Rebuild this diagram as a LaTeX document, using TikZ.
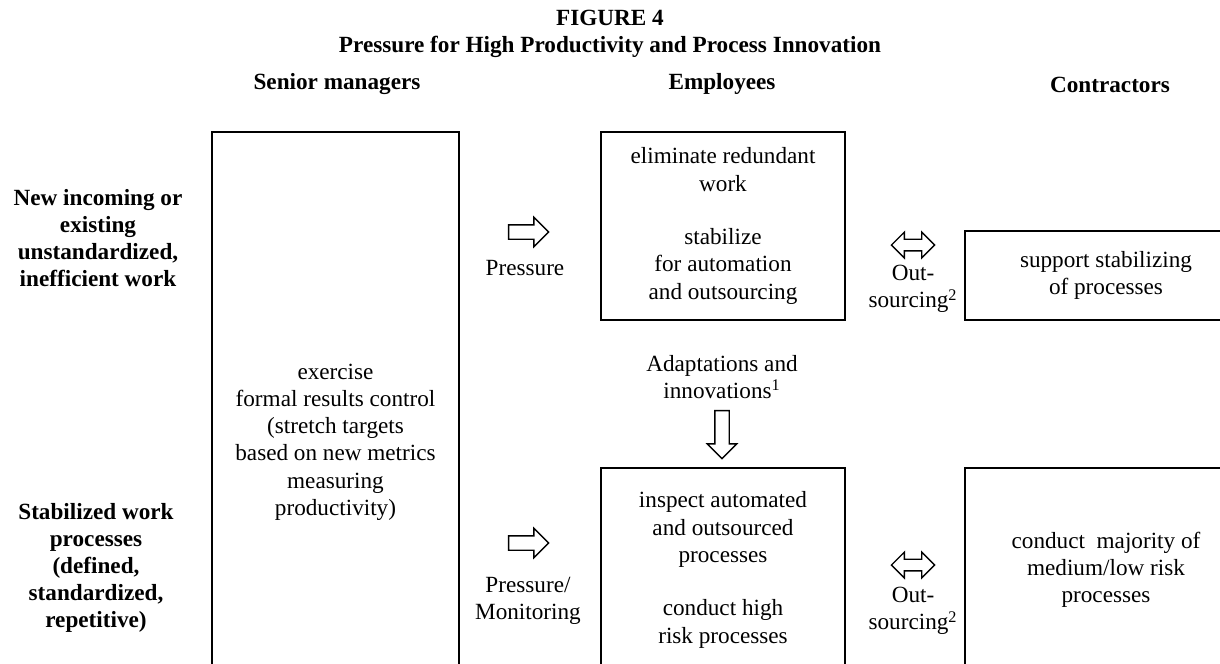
\documentclass[tikz,border=0pt]{standalone}
\usepackage{fontspec}
\setmainfont{Liberation Serif}
\usetikzlibrary{shapes.arrows}

\newcommand{\bodyfont}{\fontsize{13.2}{15.5}\selectfont}
\newcommand{\headfont}{\fontsize{13.2}{15.3}\selectfont\bfseries}

\tikzset{
  box/.style={draw, line width=1pt, align=center, font=\bodyfont},
  lbl/.style={align=center, font=\bodyfont, inner sep=0pt},
  head/.style={align=center, font=\headfont, inner sep=0pt},
  rarrow/.style={single arrow, draw, line width=0.8pt, inner sep=3.7pt,
    minimum height=22.8pt, minimum width=16pt, single arrow head extend=4.3pt},
  darrow/.style={double arrow, draw, line width=0.8pt, inner sep=2.9pt,
    minimum height=24.5pt, minimum width=13.7pt, double arrow head extend=4pt},
  downarrow/.style={rarrow, minimum height=27.3pt, shape border rotate=270}
}

\begin{document}
\begin{tikzpicture}[x=0.02cm, y=-0.02cm]
  \useasboundingbox (0,0) rectangle (1220,663);
  \clip (0,0) rectangle (1220,663);

  % headings
  \node[head] (fig) at (610,18) {FIGURE 4};
  \node[head] (title) at (610,47) {Pressure for High Productivity and Process Innovation};
  \node[head] (hsenior) at (337,84) {Senior managers};
  \node[head] (hemp) at (722,84) {Employees};
  \node[head] (hcon) at (1110,85) {Contractors};

  % row labels
  \node[head] (rowa) at (98,238) {New incoming or\\existing\\unstandardized,\\inefficient work};
  \node[head] (rowb) at (96,568) {Stabilized work\\processes\\(defined,\\standardized,\\repetitive)};

  % boxes
  \node[box, minimum width=4.94cm, minimum height=12.4cm] (senior) at (335.5,442)
    {exercise\\formal results control\\(stretch targets\\based on new metrics\\measuring\\productivity)};
  \node[box, minimum width=4.88cm, minimum height=3.76cm] (emptop) at (723,226)
    {eliminate redundant\\work\\[15pt]stabilize\\for automation\\and outsourcing};
  \node[box, minimum width=4.88cm, minimum height=4.08cm] (empbot) at (723,570)
    {inspect automated\\and outsourced\\processes\\[15pt]conduct high\\risk processes};
  \node[box, minimum width=5.64cm, minimum height=1.78cm] (contop) at (1106,275.5)
    {support stabilizing\\of processes};
  \node[box, minimum width=5.64cm, minimum height=4.08cm] (conbot) at (1106,570)
    {conduct\ \ majority of\\medium/low risk\\processes};

  % block arrows and their labels
  \node[rarrow] (pressa) at (525,232) {};
  \node[lbl] (pressalbl) at (525,268) {Pressure};
  \node[rarrow] (pressb) at (525,543) {};
  \node[lbl] (pressblbl) at (528,601) {Pressure/\\Monitoring};
  \node[darrow] (outa) at (913,245) {};
  \node[lbl] (outalbl) at (913,289) {Out-\\sourcing\textsuperscript{2}};
  \node[darrow] (outb) at (913,565) {};
  \node[lbl] (outblbl) at (913,611) {Out-\\sourcing\textsuperscript{2}};
  \node[lbl] (adapt) at (722,377) {Adaptations and\\innovations\textsuperscript{1}};
  \node[downarrow] (adaptarr) at (722,431) {};
\end{tikzpicture}
\end{document}
